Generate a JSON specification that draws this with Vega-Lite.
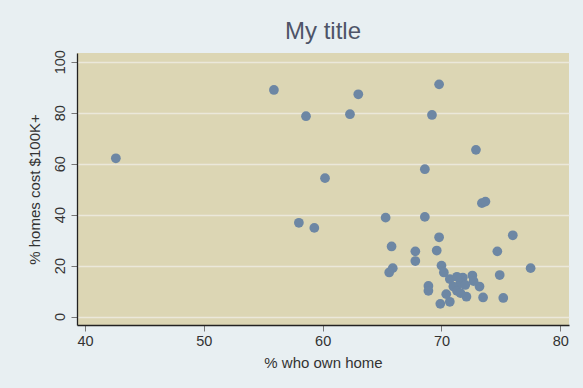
{
  "$schema": "https://vega.github.io/schema/vega-lite/v6.json",
  "width": 492,
  "height": 272,
  "autosize": {"type": "none"},
  "padding": {"left": 77, "top": 53, "right": 14, "bottom": 63},
  "background": "#e8eff2",
  "view": {"fill": "#dcd6b4", "stroke": null},
  "title": {
    "text": "My title",
    "anchor": "middle",
    "font": "Liberation Sans",
    "fontSize": 24,
    "fontWeight": "normal",
    "color": "#4e5468",
    "offset": 6
  },
  "data": {
    "values": [
      {"own": 42.6, "cost": 62.1},
      {"own": 55.9, "cost": 88.9},
      {"own": 58.6, "cost": 78.6},
      {"own": 62.3, "cost": 79.4},
      {"own": 63.0, "cost": 87.2},
      {"own": 60.2, "cost": 54.3},
      {"own": 69.8, "cost": 91.1},
      {"own": 69.2, "cost": 79.1},
      {"own": 72.9, "cost": 65.4},
      {"own": 68.6, "cost": 57.8},
      {"own": 73.4, "cost": 44.5},
      {"own": 73.7, "cost": 45.1},
      {"own": 65.3, "cost": 38.8},
      {"own": 68.6, "cost": 39.1},
      {"own": 69.8, "cost": 31.1},
      {"own": 76.0, "cost": 31.9},
      {"own": 58.0, "cost": 36.8},
      {"own": 59.3, "cost": 34.8},
      {"own": 65.8, "cost": 27.5},
      {"own": 67.8, "cost": 25.6},
      {"own": 67.8, "cost": 21.8},
      {"own": 69.6, "cost": 25.9},
      {"own": 74.7, "cost": 25.6},
      {"own": 65.9, "cost": 19.0},
      {"own": 65.6, "cost": 17.3},
      {"own": 77.5, "cost": 19.0},
      {"own": 70.0, "cost": 20.0},
      {"own": 70.2, "cost": 17.3},
      {"own": 74.9, "cost": 16.3},
      {"own": 68.9, "cost": 12.0},
      {"own": 68.9, "cost": 10.1},
      {"own": 75.2, "cost": 7.3},
      {"own": 69.9, "cost": 5.0},
      {"own": 70.7, "cost": 5.8},
      {"own": 70.7, "cost": 14.7},
      {"own": 71.8, "cost": 15.3},
      {"own": 72.6, "cost": 16.1},
      {"own": 71.6, "cost": 13.1},
      {"own": 73.2, "cost": 11.8},
      {"own": 71.0, "cost": 11.8},
      {"own": 70.4, "cost": 8.8},
      {"own": 71.3, "cost": 10.1},
      {"own": 72.1, "cost": 7.8},
      {"own": 71.6, "cost": 9.2},
      {"own": 73.5, "cost": 7.5},
      {"own": 72.7, "cost": 13.9},
      {"own": 72.0, "cost": 12.4},
      {"own": 71.3, "cost": 15.6}
    ]
  },
  "mark": {"type": "circle", "size": 95, "color": "#6d87a4", "opacity": 1},
  "encoding": {
    "x": {
      "field": "own",
      "type": "quantitative",
      "title": "% who own home",
      "scale": {"domain": [39.33, 80.73], "nice": false, "zero": false},
      "axis": {
        "values": [40, 50, 60, 70, 80],
        "grid": false,
        "domainColor": "#222222",
        "domainWidth": 1.3,
        "tickColor": "#777777",
        "tickSize": 6,
        "tickWidth": 1,
        "labelFont": "Liberation Sans",
        "labelFontSize": 14.5,
        "labelColor": "#333333",
        "labelPadding": 3,
        "labelFlush": false,
        "titleFont": "Liberation Sans",
        "titleFontSize": 15,
        "titleFontWeight": "normal",
        "titleColor": "#333333",
        "titlePadding": 8
      }
    },
    "y": {
      "field": "cost",
      "type": "quantitative",
      "title": "% homes cost $100K+",
      "scale": {"domain": [-3.3, 103.4], "nice": false, "zero": false},
      "axis": {
        "values": [0, 20, 40, 60, 80, 100],
        "grid": true,
        "gridColor": "#ebe8da",
        "gridWidth": 1.5,
        "domainColor": "#222222",
        "domainWidth": 1.3,
        "tickColor": "#777777",
        "tickSize": 6,
        "tickWidth": 1,
        "labelAngle": -90,
        "labelAlign": "center",
        "labelBaseline": "bottom",
        "labelFont": "Liberation Sans",
        "labelFontSize": 14.5,
        "labelColor": "#333333",
        "labelPadding": 4,
        "labelFlush": false,
        "titleFont": "Liberation Sans",
        "titleFontSize": 15,
        "titleFontWeight": "normal",
        "titleColor": "#333333",
        "titlePadding": 10
      }
    }
  }
}
